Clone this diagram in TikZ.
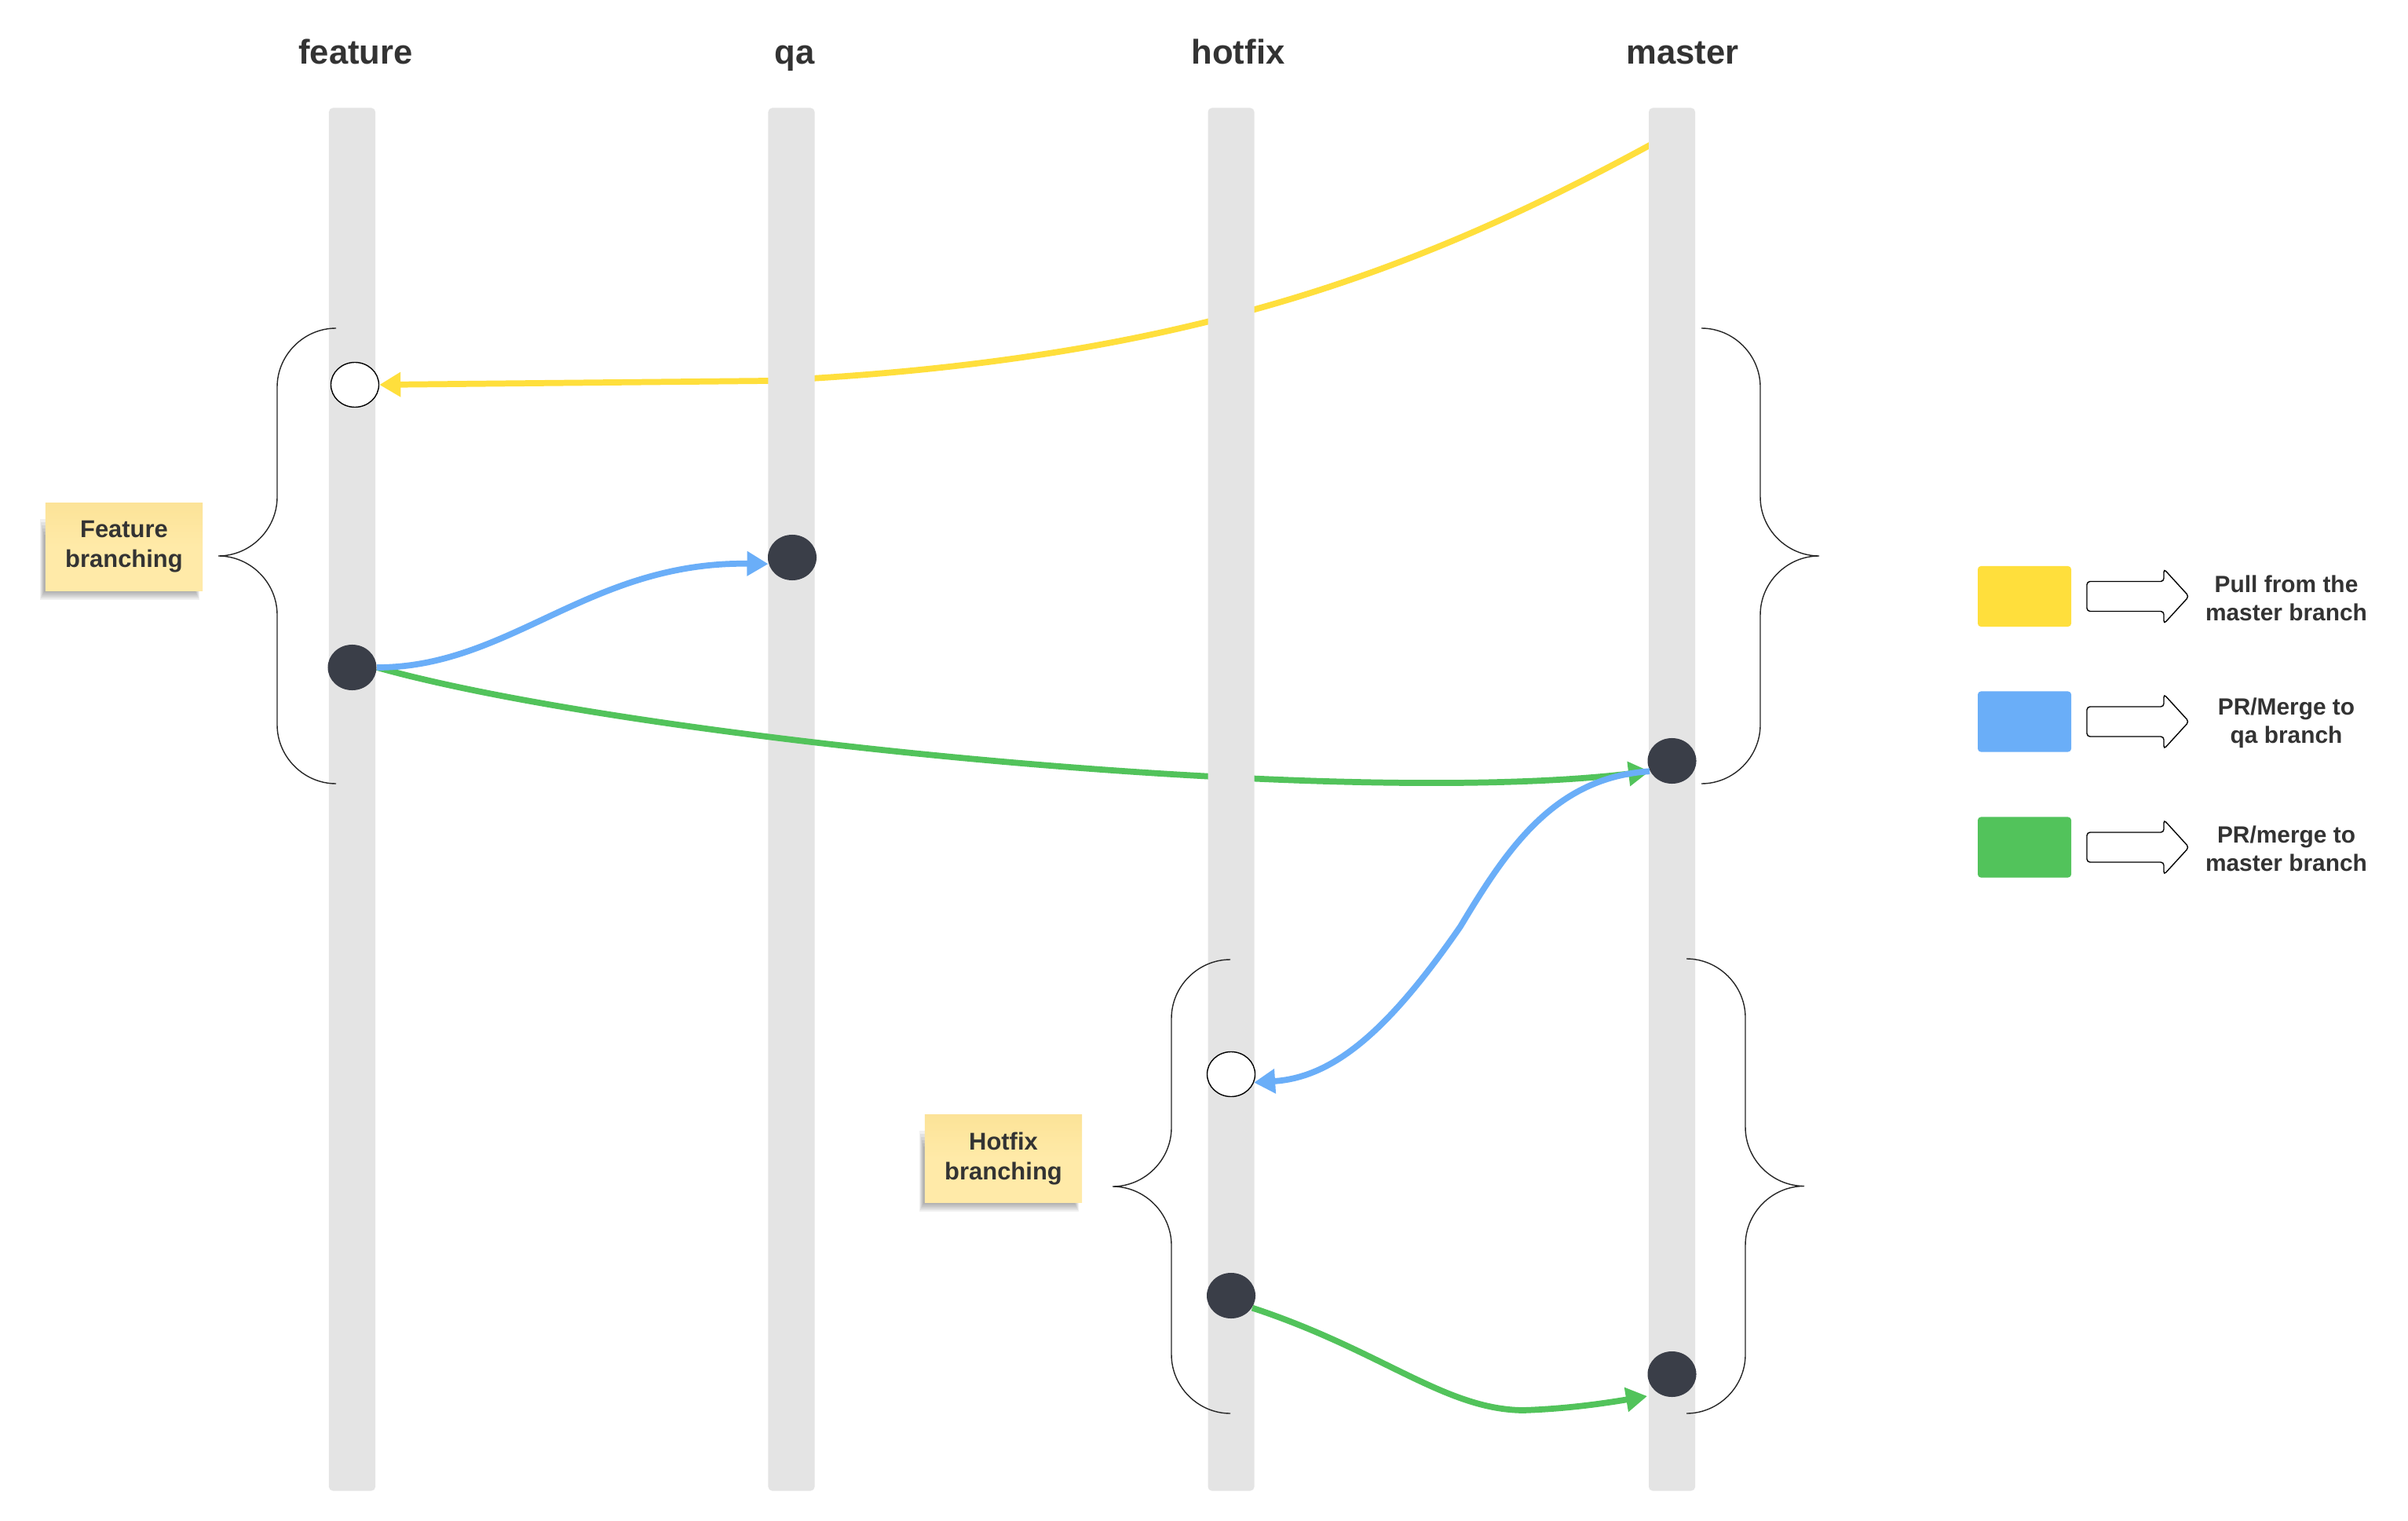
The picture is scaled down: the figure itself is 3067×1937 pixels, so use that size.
\documentclass[tikz,border=0pt]{standalone}
\usepackage{fontspec}
\setmainfont{Liberation Sans}
\usetikzlibrary{arrows.meta,shapes.geometric}
\definecolor{cbar}{HTML}{E4E4E4}
\definecolor{cdark}{HTML}{3A3E48}
\definecolor{cyellow}{HTML}{FFDF3C}
\definecolor{cblue}{HTML}{6AAEF8}
\definecolor{cgreen}{HTML}{52C35B}
\definecolor{ctext}{HTML}{333333}
\definecolor{cstickytop}{HTML}{FCE398}
\definecolor{cstickybot}{HTML}{FFEAA8}
\pgfdeclarelayer{Lbg}
\pgfdeclarelayer{Lyel}
\pgfdeclarelayer{LbarA}
\pgfdeclarelayer{Lgrn}
\pgfdeclarelayer{LbarB}
\pgfsetlayers{Lbg,Lyel,LbarA,Lgrn,LbarB,main}
\newcommand\BraceLeft[3]{%
  \draw[curlyb] (#1,#2) .. controls +(-41,0) and +(0,-41) .. ++(-75,75) -- ++(0,#3)
    .. controls +(0,41) and +(41,0) .. ++(-75,75)
    .. controls +(41,0) and +(0,-41) .. ++(75,75) -- ++(0,#3)
    .. controls +(0,41) and +(-41,0) .. ++(75,75);}
\newcommand\BraceRight[3]{%
  \draw[curlyb] (#1,#2) .. controls +(41,0) and +(0,-41) .. ++(75,75) -- ++(0,#3)
    .. controls +(0,41) and +(-41,0) .. ++(75,75)
    .. controls +(-41,0) and +(0,-41) .. ++(-75,75) -- ++(0,#3)
    .. controls +(0,41) and +(41,0) .. ++(-75,75);}
\newcommand\StickyShadow[4]{%
  \foreach \k in {0,...,5}{\fill[black,opacity=0.06] ({#1-7+\k},{#2+20+4*\k}) rectangle ({#3-4-\k},{#4+12-2*\k});}}
\newcommand\LegendArrow[1]{%
  \draw[black, line width=0.4pt, rounded corners=0.04cm, fill=white]
    (2658,{#1-19}) -- (2756,{#1-19}) -- (2756,{#1-35}) -- (2788,#1) -- (2756,{#1+35})
    -- (2756,{#1+19}) -- (2658,{#1+19}) -- cycle;}
\begin{document}
\begin{tikzpicture}[x=0.01cm,y=-0.01cm,
  bar/.style={fill=cbar, draw=none, rounded corners=0.05cm, minimum width=0.59cm, minimum height=17.6cm, inner sep=0pt},
  brhead/.style={font=\bfseries\fontsize{12.4}{15}\selectfont, text=ctext, anchor=base, inner sep=0pt},
  commit/.style={ellipse, fill=cdark, minimum width=0.62cm, minimum height=0.58cm, inner sep=0pt},
  opencommit/.style={ellipse, fill=white, draw=black, line width=0.4pt, minimum width=0.61cm, minimum height=0.57cm, inner sep=0pt},
  flow/.style={line width=2.2pt, -{Triangle[length=0.27cm,width=0.3cm]}},
  curlyb/.style={draw=black!85, line width=0.4pt},
  sticky/.style={top color=cstickytop, bottom color=cstickybot, middle color=cstickybot, minimum width=2cm, minimum height=1.11cm, inner sep=0pt, align=center, font=\bfseries\fontsize{8.8}{10.8}\selectfont, text=ctext},
  legsw/.style={rounded corners=0.04cm, minimum width=1.19cm, minimum height=0.77cm, inner sep=0pt},
  legtext/.style={font=\bfseries\fontsize{8.5}{10.25}\selectfont, align=center, text=ctext, inner sep=0pt},
]
\begin{pgfonlayer}{Lbg}
\useasboundingbox[fill=white] (0,0) rectangle (3067,1937);
\end{pgfonlayer}

% headers
\node[brhead] (hF) at (453,82) {feature};
\node[brhead] (hQ) at (1012,82) {qa};
\node[brhead] (hH) at (1577,82) {hotfix};
\node[brhead] (hM) at (2143,82) {master};

% bars
\begin{pgfonlayer}{LbarA}
\node[bar] (barF) at (448.5,1018) {};
\node[bar] (barQ) at (1008,1018) {};
\end{pgfonlayer}
\begin{pgfonlayer}{LbarB}
\node[bar] (barH) at (1568,1018) {};
\node[bar] (barM) at (2129.5,1018) {};
\end{pgfonlayer}

% commits
\node[opencommit] (fw) at (452,490) {};
\node[commit] (fd) at (448.5,850) {};
\node[commit] (qd) at (1009,710) {};
\node[commit] (md1) at (2129.5,969) {};
\node[opencommit] (hw) at (1568,1368) {};
\node[commit] (hd) at (1568,1650) {};
\node[commit] (md2) at (2129.5,1750) {};
\coordinate (ys) at (2112,179);
\coordinate (gt) at (2098,1778);

% connectors
\begin{pgfonlayer}{Lyel}
\draw[flow, color=cyellow] (ys) .. controls (1800,350) and (1500,460) .. (978,485) -- (fw.east);
\end{pgfonlayer}
\begin{pgfonlayer}{Lgrn}
\draw[flow, color=cgreen] (fd.east) .. controls (800,940) and (1700,1030) .. (md1.205);
\end{pgfonlayer}
\draw[flow, color=cblue] (fd.east) .. controls (650,850) and (750,715) .. (qd.195);
\draw[flow, color=cblue] (md1.205) .. controls (1980,990) and (1920,1080) .. (1860,1180)
  .. controls (1770,1310) and (1700,1372) .. (hw.340);
\draw[flow, color=cgreen] (hd.330) .. controls (1760,1720) and (1840,1795) .. (1940,1796)
  .. controls (2000,1794) and (2050,1786) .. (gt);

% braces
\BraceLeft{428}{418}{140}
\BraceRight{2167}{418}{140}
\BraceLeft{1567}{1222}{139}
\BraceRight{2148}{1221}{139.5}

% sticky notes
\StickyShadow{58}{641}{258}{752}
\node[sticky] (noteF) at (158,696.5) {Feature\\branching};
\StickyShadow{1178}{1420}{1378}{1531}
\node[sticky] (noteH) at (1278,1475.5) {Hotfix\\branching};

% legend
\node[legsw, fill=cyellow] (swY) at (2578.5,759.5) {};
\node[legsw, fill=cblue] (swB) at (2578.5,919) {};
\node[legsw, fill=cgreen] (swG) at (2578.5,1079) {};
\LegendArrow{759.5}
\LegendArrow{919}
\LegendArrow{1079}
\node[legtext] (lgY) at (2912,762) {Pull from the\\master branch};
\node[legtext] (lgB) at (2912,921) {PR/Merge to\\qa branch};
\node[legtext] (lgG) at (2912,1081) {PR/merge to\\master branch};
\end{tikzpicture}
\end{document}
